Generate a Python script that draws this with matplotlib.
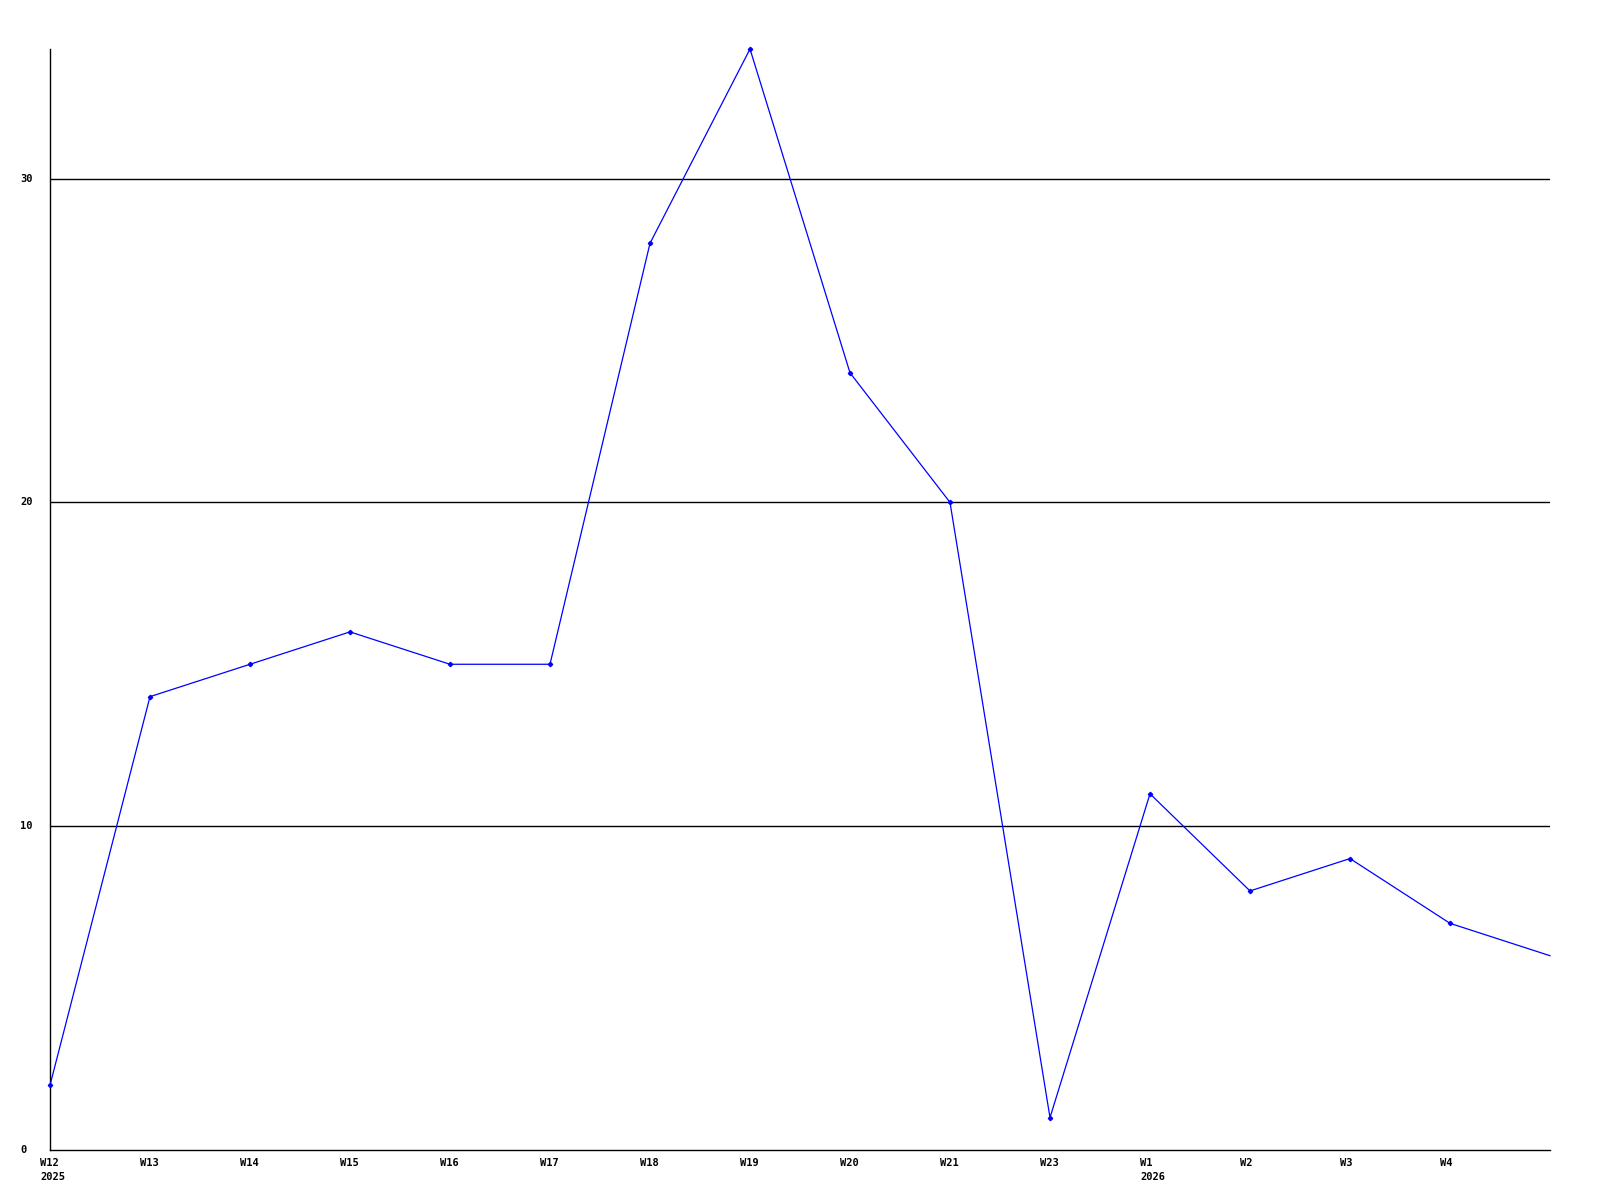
import matplotlib
matplotlib.use("Agg")
import matplotlib.pyplot as plt
import matplotlib.transforms as mtransforms

weeks = ["W12", "W13", "W14", "W15", "W16", "W17", "W18", "W19",
         "W20", "W21", "W23", "W1", "W2", "W3", "W4", ""]
years = {0: "2025", 11: "2026"}
values = [2, 14, 15, 16, 15, 15, 28, 34, 24, 20, 1, 11, 8, 9, 7, 6]
y_ticks = [0, 10, 20, 30]

fig = plt.figure(figsize=(16, 12), dpi=100)
ax = fig.add_axes([50 / 1600, 50 / 1200, 1500 / 1600, 1101 / 1200])

x = list(range(len(values)))
for yv in y_ticks[1:]:
    ax.axhline(yv, color="black", linewidth=1.0, zorder=1)
# the last point sits on the right edge and has no marker in the original
ax.plot(x, values, color="#0000ff", linewidth=0.9, marker="D", markersize=2.2,
        markevery=list(range(len(values) - 1)), clip_on=False, zorder=3)

ax.set_xlim(0, len(values) - 1)
ax.set_ylim(0, 34)

font = dict(family="DejaVu Sans Mono", weight="bold", size=7.5)

labels = [w + ("\n" + years[i] if i in years else "") for i, w in enumerate(weeks)]
ax.set_xticks(x)
ax.set_xticklabels(labels, ha="left", va="top", linespacing=1.5, **font)
ax.set_yticks(y_ticks)
ax.set_yticklabels([str(v) for v in y_ticks], ha="left", va="center", **font)
ax.tick_params(axis="both", length=0)
ax.tick_params(axis="x", pad=6)
ax.tick_params(axis="y", pad=21.6)

shift = mtransforms.ScaledTranslation(-10 / 100, 0, fig.dpi_scale_trans)
for lab in ax.get_xticklabels():
    lab.set_transform(lab.get_transform() + shift)

for side in ["top", "right"]:
    ax.spines[side].set_visible(False)
for side in ["left", "bottom"]:
    ax.spines[side].set_linewidth(1.0)
    ax.spines[side].set_color("black")

fig.savefig("out.png", dpi=100)
